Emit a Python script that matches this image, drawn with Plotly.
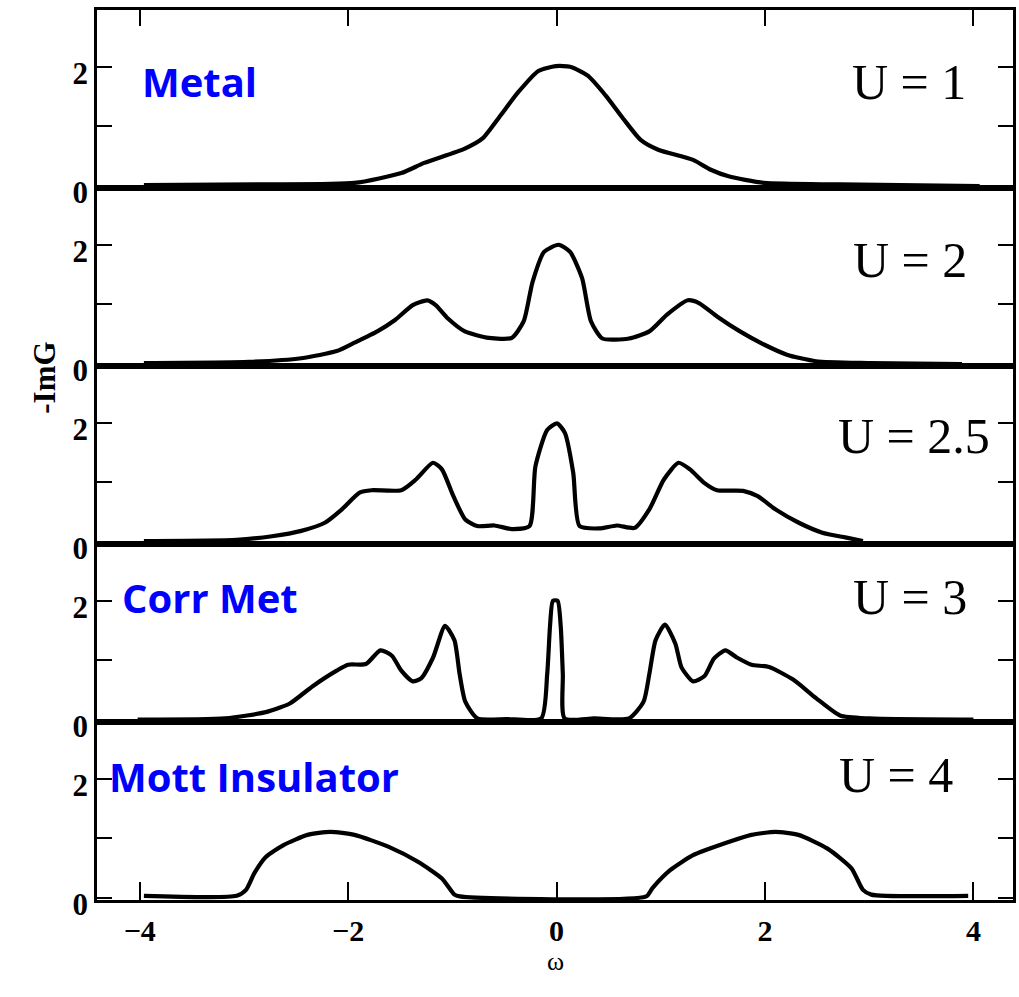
import plotly.graph_objects as go
from plotly.subplots import make_subplots

# ---- data (omega, -ImG) ----
u1_x = [-3.96, -2.8, -1.94, -1.49, -1.27, -0.88, -0.71, -0.54, -0.37, -0.175, -0.007, 0.13, 0.30, 0.47, 0.64, 0.81, 0.975, 1.31, 1.48, 1.65, 1.99, 2.72, 4.06]
u1_y = [0.02, 0.03, 0.055, 0.22, 0.39, 0.63, 0.80, 1.18, 1.57, 1.93, 2.01, 2.0, 1.85, 1.52, 1.13, 0.77, 0.61, 0.44, 0.275, 0.165, 0.055, 0.03, 0.0]

u2_x = [-3.96, -2.95, -2.45, -2.11, -1.94, -1.72, -1.55, -1.38, -1.24, -1.16, -1.045, -0.88, -0.65, -0.43, -0.315, -0.23, -0.12, 0.02, 0.13, 0.245, 0.33, 0.44, 0.695, 0.89, 1.06, 1.26, 1.37, 1.54, 1.76, 1.99, 2.21, 2.49, 3.0, 3.89]
u2_y = [0.02, 0.04, 0.10, 0.22, 0.36, 0.55, 0.74, 0.99, 1.07, 0.99, 0.77, 0.55, 0.44, 0.44, 0.72, 1.38, 1.88, 2.0, 1.88, 1.44, 0.72, 0.43, 0.43, 0.55, 0.83, 1.07, 1.02, 0.80, 0.55, 0.33, 0.16, 0.05, 0.02, 0.0]

u25_x = [-3.96, -3.07, -2.73, -2.45, -2.22, -2.06, -1.89, -1.775, -1.49, -1.35, -1.186, -1.10, -0.99, -0.876, -0.76, -0.596, -0.43, -0.26, -0.203, -0.09, 0.004, 0.08, 0.16, 0.22, 0.41, 0.58, 0.75, 0.89, 1.03, 1.17, 1.28, 1.42, 1.54, 1.79, 1.93, 2.10, 2.32, 2.55, 2.77, 2.94]
u25_y = [0.02, 0.04, 0.10, 0.19, 0.33, 0.55, 0.83, 0.87, 0.87, 1.05, 1.33, 1.22, 0.77, 0.38, 0.27, 0.28, 0.22, 0.27, 1.27, 1.88, 1.99, 1.83, 1.16, 0.27, 0.23, 0.28, 0.24, 0.55, 1.05, 1.33, 1.22, 0.99, 0.87, 0.86, 0.77, 0.55, 0.33, 0.16, 0.08, 0.02]

u3_x = [-4.02, -3.18, -2.78, -2.56, -2.34, -2.11, -2.0, -1.83, -1.69, -1.58, -1.49, -1.38, -1.30, -1.185, -1.07, -0.98, -0.93, -0.876, -0.76, -0.48, -0.147, -0.09, -0.063, -0.035, 0.01, 0.04, 0.06, 0.077, 0.36, 0.695, 0.835, 0.89, 0.95, 1.04, 1.14, 1.20, 1.31, 1.42, 1.51, 1.62, 1.73, 1.87, 2.04, 2.27, 2.49, 2.72, 3.0, 4.0]
u3_y = [0.01, 0.03, 0.14, 0.28, 0.57, 0.83, 0.93, 0.94, 1.17, 1.08, 0.83, 0.65, 0.70, 1.05, 1.58, 1.34, 0.77, 0.31, 0.03, 0.02, 0.03, 0.77, 1.57, 2.0, 2.0, 1.57, 0.77, 0.03, 0.03, 0.03, 0.31, 0.77, 1.34, 1.60, 1.28, 0.88, 0.65, 0.74, 1.03, 1.17, 1.05, 0.93, 0.89, 0.68, 0.37, 0.08, 0.03, 0.01]

u4_x = [-3.96, -3.07, -2.98, -2.9, -2.79, -2.62, -2.39, -2.17, -1.94, -1.61, -1.33, -1.1, -0.98, -0.93, 0.86, 0.92, 1.09, 1.31, 1.65, 1.87, 2.1, 2.32, 2.6, 2.83, 2.94, 3.02, 3.95]
u4_y = [0.04, 0.04, 0.14, 0.42, 0.69, 0.89, 1.06, 1.11, 1.06, 0.86, 0.61, 0.33, 0.06, 0.03, 0.03, 0.17, 0.47, 0.72, 0.94, 1.06, 1.11, 1.06, 0.83, 0.50, 0.14, 0.06, 0.04]

u_labels = ["U = 1", "U = 2", "U = 2.5", "U = 3", "U = 4"]
phase_labels = ["Metal", None, None, "Corr Met", "Mott Insulator"]
y_ticks = [0, 1, 2]
y_ticktext = ["0", "", "2"]
x_ticks = [-4, -2, 0, 2, 4]
x_ticktext = ["\u22124", "\u22122", "0", "2", "4"]

series = [(u1_x, u1_y), (u2_x, u2_y), (u25_x, u25_y), (u3_x, u3_y), (u4_x, u4_y)]

fig = make_subplots(rows=5, cols=1, shared_xaxes=True, vertical_spacing=0)

for i, (xs, ys) in enumerate(series):
    fig.add_trace(go.Scatter(x=xs, y=ys, mode="lines",
                             line=dict(color="black", width=4.2, shape="spline", smoothing=0.6),
                             showlegend=False, hoverinfo="skip"), row=i + 1, col=1)

for i in range(5):
    fig.update_yaxes(range=[-0.03, 2.95], tickvals=y_ticks, ticktext=y_ticktext,
                     ticks="inside", ticklen=15, tickwidth=2, tickcolor="black",
                     showline=True, linecolor="black", linewidth=2.5, mirror="ticks",
                     showgrid=False, zeroline=False,
                     tickfont=dict(family="Liberation Serif", size=31, color="black", weight="bold"),
                     ticklabelstandoff=0, ticklabelshift=6, row=i + 1, col=1)
    common = dict(range=[-4.41, 4.38], showline=True, linecolor="black", linewidth=2.5,
                  mirror=True, showgrid=False, zeroline=False, tickvals=x_ticks,
                  ticktext=x_ticktext)
    if i == 0:
        fig.update_xaxes(side="top", ticks="inside", ticklen=16, tickwidth=1.5,
                         tickcolor="black", showticklabels=False, row=1, col=1, **common)
    elif i == 4:
        fig.update_xaxes(ticks="inside", ticklen=18, tickwidth=1.5, tickcolor="black",
                         showticklabels=True,
                         tickfont=dict(family="Liberation Serif", size=30, color="black", weight="bold"),
                         ticklabelstandoff=2, row=5, col=1, **common)
    else:
        fig.update_xaxes(ticks="", showticklabels=False, row=i + 1, col=1, **common)

u_pos = [(3.38, 1.75), (3.39, 1.75), (3.43, 1.77), (3.39, 2.07), (3.26, 2.07)]
ph_pos = [(-4.0, 1.75), None, None, (-4.19, 2.05), (-4.31, 2.03)]
for i in range(5):
    yref = "y" if i == 0 else f"y{i + 1}"
    xref = "x" if i == 0 else f"x{i + 1}"
    fig.add_annotation(x=u_pos[i][0], y=u_pos[i][1], xref=xref, yref=yref,
                       text=u_labels[i], showarrow=False, xanchor="center", yanchor="middle",
                       font=dict(family="Liberation Serif", size=50, color="black"))
    if phase_labels[i]:
        fig.add_annotation(x=ph_pos[i][0], y=ph_pos[i][1], xref=xref, yref=yref,
                           text=phase_labels[i], showarrow=False, xanchor="left", yanchor="middle",
                           font=dict(family="Open Sans", size=40, color="#0000ff", weight="bold"))

plot_w = 1019 - 97 - 3
plot_h = 997 - 10 - 97
fig.add_annotation(x=(24 - 97) / plot_w, y=(997 - 97 - 378) / plot_h, xref="paper", yref="paper",
                   text="-ImG", showarrow=False, textangle=-90,
                   font=dict(family="Liberation Serif", size=31, color="black", weight="bold"))
fig.add_annotation(x=(557 - 97) / plot_w, y=(997 - 97 - 978) / plot_h, xref="paper", yref="paper",
                   text="ω", showarrow=False,
                   font=dict(family="Liberation Serif", size=26, color="black"))

fig.update_layout(width=1019, height=997, margin=dict(l=97, r=3, t=10, b=97),
                  paper_bgcolor="white", plot_bgcolor="white")

fig.write_html("out.html")
